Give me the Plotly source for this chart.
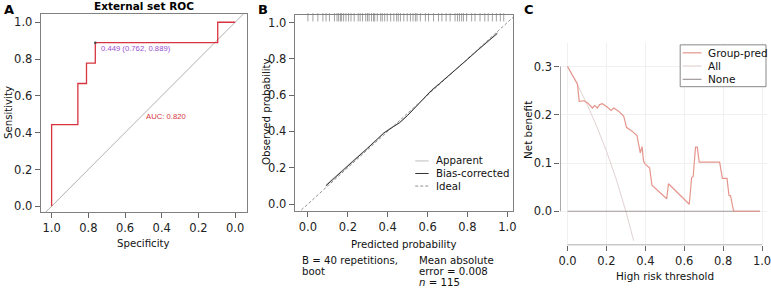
import plotly.graph_objects as go

W, H = 771, 288

# ---------------- Panel A: ROC ----------------
roc_spec = [1.0, 1.0, 0.857, 0.857, 0.810, 0.810, 0.762, 0.762, 0.095, 0.095, 0.0]
roc_sens = [0.0, 0.444, 0.444, 0.667, 0.667, 0.778, 0.778, 0.889, 0.889, 1.0, 1.0]
ref_spec = [1.1, -0.1]
ref_sens = [-0.1, 1.1]
best_spec = [0.762]
best_sens = [0.889]
best_label = "0.449 (0.762, 0.889)"
auc_label = "AUC: 0.820"
roc_ticks = [1.0, 0.8, 0.6, 0.4, 0.2, 0.0]

# ---------------- Panel B: calibration ----------------
cal_pred = [0.09, 0.15, 0.20, 0.25, 0.30, 0.35, 0.38, 0.42, 0.46, 0.50, 0.54, 0.58,
            0.62, 0.66, 0.70, 0.75, 0.80, 0.85, 0.90, 0.95]
cal_apparent = [0.105, 0.162, 0.212, 0.262, 0.310, 0.362, 0.393, 0.423, 0.450, 0.490,
                0.535, 0.585, 0.628, 0.665, 0.702, 0.750, 0.798, 0.848, 0.897, 0.945]
cal_bias = [0.100, 0.158, 0.209, 0.259, 0.308, 0.359, 0.390, 0.420, 0.448, 0.488,
            0.533, 0.583, 0.626, 0.663, 0.700, 0.749, 0.797, 0.846, 0.894, 0.940]
ideal_x = [-0.2, 1.2]
ideal_y = [-0.2, 1.2]
rug_pred = [0.0, 0.025, 0.05, 0.075, 0.091, 0.108, 0.133, 0.146, 0.154, 0.163, 0.169,
            0.179, 0.191, 0.204, 0.216, 0.232, 0.252, 0.262, 0.274, 0.29, 0.299, 0.307,
            0.319, 0.329, 0.335, 0.348, 0.365, 0.373, 0.385, 0.398, 0.415, 0.431, 0.445,
            0.453, 0.464, 0.481, 0.498, 0.514, 0.527, 0.539, 0.547, 0.564, 0.589, 0.605,
            0.63, 0.655, 0.672, 0.693, 0.713, 0.738, 0.75, 0.76, 0.771, 0.78, 0.796,
            0.821, 0.838, 0.863, 0.887, 0.904, 0.925, 0.945, 0.965, 0.982]
cal_ticks = [0.0, 0.2, 0.4, 0.6, 0.8, 1.0]
cal_legend = ["Apparent", "Bias-corrected", "Ideal"]
cal_note_left = ["B = 40 repetitions,", "boot"]
cal_note_right = ["Mean absolute", "error = 0.008", "<i>n</i> = 115"]

# ---------------- Panel C: decision curve ----------------
dca_thr = [0.0, 0.051, 0.06, 0.085, 0.105, 0.128, 0.139, 0.153, 0.165, 0.179, 0.204,
           0.224, 0.238, 0.264, 0.289, 0.303, 0.332, 0.357, 0.374, 0.383, 0.391, 0.40,
           0.422, 0.434, 0.51, 0.519, 0.626, 0.638, 0.646, 0.658, 0.667, 0.677, 0.782,
           0.796, 0.82, 0.83, 0.838, 0.854, 0.99]
dca_model = [0.3, 0.264, 0.228, 0.229, 0.224, 0.214, 0.219, 0.214, 0.221, 0.223, 0.216,
             0.209, 0.214, 0.207, 0.197, 0.174, 0.166, 0.157, 0.121, 0.134, 0.104, 0.097,
             0.090, 0.054, 0.026, 0.057, 0.0145, 0.070, 0.072, 0.133, 0.133, 0.102, 0.102,
             0.068, 0.068, 0.033, 0.032, 0.0, 0.0]
all_thr = [0.0, 0.05, 0.10, 0.15, 0.20, 0.25, 0.30, 0.34]
all_nb = [0.3, 0.263, 0.222, 0.176, 0.125, 0.067, 0.0, -0.061]
none_thr = [0.0, 0.99]
none_nb = [0.0, 0.0]
dca_xticks = [0.0, 0.2, 0.4, 0.6, 0.8, 1.0]
dca_yticks = [0.0, 0.1, 0.2, 0.3]
dca_legend = ["Group-pred", "All", "None"]

RED = "#D8343F"
PURPLE = "#9B4FCF"
GRAY_BOX = "#808080"
C_MODEL = "#E5958C"
C_ALL = "#E2D2D2"
C_NONE = "#A09898"
FONT = "DejaVu Sans"


def fx(p):
    return p / W


def fy(p):
    return 1 - p / H


fig = go.Figure()

# Panel A traces
fig.add_trace(go.Scatter(x=ref_spec, y=ref_sens, mode="lines",
                         line=dict(color="#B0B0B0", width=1), xaxis="x", yaxis="y",
                         showlegend=False, hoverinfo="skip"))
fig.add_trace(go.Scatter(x=roc_spec, y=roc_sens, mode="lines",
                         line=dict(color=RED, width=1.3), xaxis="x", yaxis="y",
                         showlegend=False))
fig.add_trace(go.Scatter(x=best_spec, y=best_sens, mode="markers",
                         marker=dict(color="#444", size=2.5), xaxis="x", yaxis="y",
                         showlegend=False))

# Panel B traces
fig.add_trace(go.Scatter(x=ideal_x, y=ideal_y, mode="lines",
                         line=dict(color="#909090", width=1, dash="3px,2px"),
                         xaxis="x2", yaxis="y2", showlegend=False))
fig.add_trace(go.Scatter(x=cal_pred, y=cal_apparent, mode="lines",
                         line=dict(color="#BDBDBD", width=1), xaxis="x2", yaxis="y2",
                         showlegend=False))
fig.add_trace(go.Scatter(x=cal_pred, y=cal_bias, mode="lines",
                         line=dict(color="#333333", width=1), xaxis="x2", yaxis="y2",
                         showlegend=False))
fig.add_trace(go.Scatter(x=rug_pred, y=[1.029] * len(rug_pred), mode="markers",
                         marker=dict(symbol="line-ns", size=6,
                                     line=dict(color="#8A8A8A", width=0.8)),
                         xaxis="x2", yaxis="y2", showlegend=False, cliponaxis=False))

# Panel C traces
fig.add_trace(go.Scatter(x=all_thr, y=all_nb, mode="lines",
                         line=dict(color=C_ALL, width=1), xaxis="x3", yaxis="y3",
                         showlegend=False))
fig.add_trace(go.Scatter(x=none_thr, y=none_nb, mode="lines",
                         line=dict(color=C_NONE, width=1.2), xaxis="x3", yaxis="y3",
                         showlegend=False))
fig.add_trace(go.Scatter(x=dca_thr, y=dca_model, mode="lines",
                         line=dict(color=C_MODEL, width=1.2), xaxis="x3", yaxis="y3",
                         showlegend=False))

tickfont = dict(family=FONT, size=11.5, color="#222")
common = dict(ticks="outside", ticklen=5, tickwidth=1, tickcolor="#666",
              zeroline=False, tickfont=tickfont, fixedrange=True)

layout = dict(
    width=W, height=H, margin=dict(l=0, r=0, t=0, b=0),
    paper_bgcolor="white", plot_bgcolor="white", showlegend=False,
    xaxis=dict(domain=[fx(39), fx(247)], range=[1.0595, -0.0649], tickvals=roc_ticks,
               tickformat=".1f", showline=True, mirror=True, linecolor=GRAY_BOX,
               showgrid=False, anchor="y", **common),
    yaxis=dict(domain=[fy(213), fy(14)], range=[-0.0325, 1.045], tickvals=roc_ticks,
               tickformat=".1f", showline=True, mirror=True, linecolor=GRAY_BOX,
               showgrid=False, anchor="x", **common),
    xaxis2=dict(domain=[fx(295), fx(515)], range=[-0.0662, 1.0284], tickvals=cal_ticks,
                tickformat=".1f", showline=True, mirror=True, linecolor=GRAY_BOX,
                showgrid=False, anchor="y2", **common),
    yaxis2=dict(domain=[fy(212), fy(15)], range=[-0.040, 1.0417], tickvals=cal_ticks,
                tickformat=".1f", showline=True, mirror=True, linecolor=GRAY_BOX,
                showgrid=False, anchor="x2", **common),
    xaxis3=dict(domain=[fx(562.7), 1.0], range=[-0.037, 1.0255], tickvals=dca_xticks,
                tickformat=".1f", showline=False, showgrid=True, gridcolor="#F0F0F0",
                anchor="y3", ticklabeloverflow="allow", **common),
    yaxis3=dict(domain=[fy(246), fy(43)], range=[-0.0702, 0.349], tickvals=dca_yticks,
                tickformat=".1f", showline=False, showgrid=True, gridcolor="#F0F0F0",
                anchor="x3", **common),
)
fig.update_layout(**layout)

ann = []
shapes = []


def text(x, y, s, size=10, color="#111", xanchor="center", yanchor="middle",
         family=FONT, angle=0, bold=False):
    if bold:
        s = "<b>" + s + "</b>"
    ann.append(dict(x=fx(x), y=fy(y), xref="paper", yref="paper", text=s,
                    showarrow=False, xanchor=xanchor, yanchor=yanchor, textangle=angle,
                    font=dict(family=family, size=size, color=color)))


# Panel letters
text(7, 10, "A", size=13, bold=True, color="#000")
text(263, 10, "B", size=13, bold=True, color="#000")
text(531, 10, "C", size=13, bold=True, color="#000")

# Panel A texts
text(143, 6, "External set ROC", size=10.5, bold=True, color="#000")
text(143, 244, "Specificity", size=10.2)
text(6.5, 113, "Sensitivity", size=10.2, angle=-90)
ann.append(dict(x=best_spec[0] - 0.02, y=best_sens[0] - 0.03, xref="x", yref="y",
                text=best_label, showarrow=False, xanchor="left", yanchor="middle",
                font=dict(family="Liberation Sans", size=7.7, color=PURPLE)))
ann.append(dict(x=0.497, y=0.487, xref="x", yref="y", text=auc_label, showarrow=False,
                xanchor="left", yanchor="middle",
                font=dict(family="Liberation Sans", size=7.7, color=RED)))

# Panel B texts
text(404.5, 245.5, "Predicted probability", size=10.2)
text(266.5, 112, "Observed probability", size=10.2, angle=-90)
for i, s in enumerate(cal_note_left):
    text(300.5, 261.5 + 11 * i, s, size=10.2, xanchor="left")
for i, s in enumerate(cal_note_right):
    text(418, 261.5 + 11 * i, s, size=10.2, xanchor="left")
cal_leg_styles = [("#BDBDBD", "solid"), ("#333333", "solid"), ("#909090", "3px,2px")]
for i, (s, (c, d)) in enumerate(zip(cal_legend, cal_leg_styles)):
    yy = 161.5 + 12.6 * i
    shapes.append(dict(type="line", xref="paper", yref="paper", x0=fx(416.5), x1=fx(430),
                       y0=fy(yy), y1=fy(yy), line=dict(color=c, width=1, dash=d)))
    text(435, yy, s, size=10.2, xanchor="left")

# Panel C texts
text(619 + 49, 277, "High risk threshold", size=10.4)
text(529.5, 130, "Net benefit", size=10.4, angle=-90)
# base-R style axis lines
shapes.append(dict(type="line", xref="x3", yref="y3", x0=dca_xticks[0], x1=dca_xticks[-1],
                   y0=-0.0702, y1=-0.0702, line=dict(color="#666", width=1)))
shapes.append(dict(type="line", xref="x3", yref="y3", x0=-0.037, x1=-0.037,
                   y0=dca_yticks[0], y1=dca_yticks[-1], line=dict(color="#666", width=1)))
# legend box
shapes.append(dict(type="rect", xref="paper", yref="paper", x0=fx(683.5), x1=fx(770),
                   y0=fy(87), y1=fy(45), line=dict(color="#888", width=1),
                   fillcolor="white"))
for i, (s, c) in enumerate(zip(dca_legend, [C_MODEL, C_ALL, C_NONE])):
    yy = 53 + 13.3 * i
    shapes.append(dict(type="line", xref="paper", yref="paper", x0=fx(686), x1=fx(705),
                       y0=fy(yy), y1=fy(yy), line=dict(color=c, width=1.2)))
    text(709.5, yy, s, size=10.5, xanchor="left")

fig.update_layout(annotations=ann, shapes=shapes)
fig.write_html("out.html", config={"displayModeBar": False},
               post_script="document.body.style.margin='0';document.body.style.overflow='hidden';")
